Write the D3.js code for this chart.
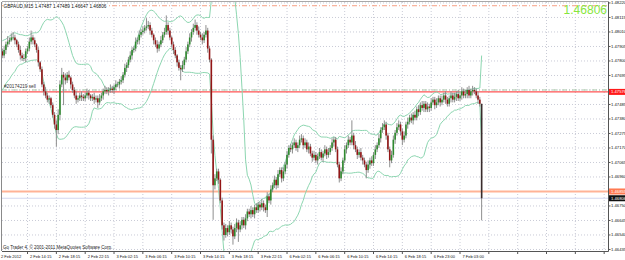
<!DOCTYPE html>
<html>
<head>
<meta charset="utf-8">
<script src="https://cdn.jsdelivr.net/npm/d3@7"></script>
<style>
  body { margin: 0; background: #fff; }
  svg { display: block; }
  text { font-family: "Liberation Sans", Arial, sans-serif; }
</style>
</head>
<body>
<svg id="chart" width="625" height="260"></svg>
<script>
// GBPAUD M15 candles, 2 Feb 2012 .. 7 Feb 2012
const header = "GBPAUD,M15  1.47487 1.47489 1.46647 1.46806";
const copyright = "Go Trader 4, \u00a9 2001-2011 MetaQuotes Software Corp.";
const orderLabel = "#20174219 sell";

// closes of the 19 bars before the first visible one (needed for the bands)
const priorCloses = [1.4763,1.4760,1.4765,1.4768,1.4766,1.4770,1.4774,1.4772,1.4776,1.4779,
  1.4781,1.4778,1.4782,1.4784,1.4787,1.4784,1.4788,1.4789,1.4787];
const firstOpen = 1.4787;

// visible closes; the open of each bar is the close before it
const closes = [
  1.4784,1.4788,1.4792,1.4794,1.4795,1.4797,1.4797,1.4795,1.4792,1.4788,1.4784,1.4782,1.4782,1.4787,1.4789,1.4794,1.4797,1.4795,1.4792,1.4788,
  1.4779,1.4774,1.4763,1.4758,1.4755,1.4752,1.4753,1.4748,1.4741,1.4734,1.4730,1.4741,1.4763,1.4770,1.4768,1.4766,1.4770,1.4768,1.4763,1.4759,
  1.4755,1.4752,1.4753,1.4755,1.4754,1.4753,1.4755,1.4757,1.4755,1.4753,1.4754,1.4752,1.4753,1.4750,1.4753,1.4755,1.4758,1.4759,1.4758,1.4759,
  1.4760,1.4759,1.4761,1.4763,1.4763,1.4765,1.4766,1.4770,1.4775,1.4777,1.4781,1.4784,1.4788,1.4789,1.4794,1.4795,1.4799,1.4801,1.4802,1.4804,
  1.4805,1.4806,1.4802,1.4799,1.4795,1.4792,1.4789,1.4792,1.4795,1.4799,1.4801,1.4806,1.4802,1.4797,1.4792,1.4788,1.4784,1.4779,1.4775,1.4774,
  1.4777,1.4781,1.4787,1.4792,1.4797,1.4801,1.4804,1.4806,1.4802,1.4799,1.4797,1.4795,1.4799,1.4802,1.4789,1.4781,1.4723,1.4690,1.4695,1.4700,
  1.4694,1.4679,1.4661,1.4654,1.4659,1.4656,1.4661,1.4658,1.4653,1.4659,1.4663,1.4658,1.4661,1.4665,1.4661,1.4666,1.4671,1.4669,1.4672,1.4669,
  1.4674,1.4672,1.4676,1.4674,1.4677,1.4674,1.4672,1.4682,1.4679,1.4687,1.4690,1.4694,1.4690,1.4698,1.4701,1.4695,1.4700,1.4705,1.4712,1.4717,
  1.4716,1.4719,1.4721,1.4717,1.4719,1.4723,1.4724,1.4719,1.4721,1.4716,1.4718,1.4713,1.4710,1.4712,1.4708,1.4711,1.4714,1.4710,1.4713,1.4716,
  1.4712,1.4714,1.4717,1.4721,1.4723,1.4716,1.4705,1.4695,1.4700,1.4708,1.4716,1.4719,1.4723,1.4721,1.4726,1.4719,1.4716,1.4712,1.4714,1.4710,
  1.4708,1.4705,1.4701,1.4705,1.4708,1.4706,1.4712,1.4716,1.4719,1.4724,1.4730,1.4732,1.4734,1.4726,1.4716,1.4708,1.4712,1.4723,1.4728,1.4732,
  1.4734,1.4729,1.4723,1.4726,1.4734,1.4736,1.4739,1.4737,1.4741,1.4739,1.4745,1.4743,1.4748,1.4746,1.4749,1.4745,1.4747,1.4746,1.4750,1.4752,
  1.4748,1.4750,1.4753,1.4750,1.4752,1.4755,1.4752,1.4749,1.4753,1.4755,1.4752,1.4754,1.4756,1.4753,1.4755,1.4758,1.4755,1.4756,1.4759,1.4755,
  1.4758,1.4759,1.4758,1.4755,1.4752,1.4749,1.46806
];

// wick lengths in pips above the body top / below the body bottom
const upWick = [
  2,3,2,4,2,3,4,2,1,2,3,2,3,2,2,3,5,2,2,1,
  2,1,2,2,3,2,2,1,2,2,3,4,3,5,2,3,2,3,1,2,
  2,3,2,2,3,2,2,3,2,1,2,3,2,2,3,2,2,3,2,2,
  3,2,2,3,2,2,3,2,3,2,2,3,2,2,3,2,3,2,3,2,
  6,3,2,2,1,2,3,2,3,2,3,7,2,2,1,2,2,1,2,2,
  3,2,3,2,3,2,3,4,2,3,2,3,2,4,2,2,1,3,3,2,
  2,1,2,2,3,2,3,2,2,3,3,2,3,2,2,3,2,2,3,2,
  2,3,2,2,3,2,2,3,2,3,2,3,2,3,2,2,3,2,3,2,
  3,2,3,2,2,3,3,2,3,2,3,2,2,3,2,2,3,2,2,3,
  2,3,2,3,2,2,2,2,3,2,3,2,3,2,11,2,3,2,2,3,
  2,2,2,3,2,3,2,3,2,3,2,3,3,2,2,2,3,3,2,3,
  3,2,2,3,2,3,2,3,2,3,2,3,2,3,2,2,3,2,3,2,
  2,3,2,2,3,2,3,2,2,3,2,3,2,3,2,3,2,3,2,3,
  2,3,2,2,3,2,0
];
const downWick = [
  2,2,3,2,2,1,2,3,2,2,3,2,2,3,2,2,2,3,2,2,
  3,2,2,3,2,2,3,2,2,3,12,3,4,2,20,3,2,2,3,2,
  2,3,2,2,3,2,2,2,3,2,2,3,2,4,2,2,3,2,2,3,
  2,2,3,2,2,3,2,2,2,3,2,2,3,2,2,2,3,2,2,2,
  2,2,3,2,3,2,3,2,2,2,2,2,3,2,2,3,2,3,2,8,
  2,3,2,2,2,3,2,2,3,2,2,3,2,2,3,2,10,25,3,2,
  3,2,3,4,2,3,2,3,6,2,3,9,2,3,2,3,2,2,3,2,
  3,2,2,3,2,3,2,5,2,3,2,2,3,2,2,3,2,2,3,2,
  2,3,2,2,3,2,2,3,2,2,3,2,3,2,2,3,2,2,3,2,
  3,2,2,2,3,2,2,3,2,2,2,3,2,2,2,3,2,3,2,2,
  3,2,6,2,3,2,2,3,2,2,3,2,2,3,2,5,2,2,3,2,
  2,3,4,2,2,3,2,2,3,2,2,3,2,2,3,2,2,3,2,2,
  3,2,2,3,2,2,3,2,2,3,2,2,3,2,2,3,2,2,3,2,
  2,3,2,2,3,2,16
];

const priceTicks = [1.48220,1.48115,1.48010,1.47905,1.47800,1.47695,1.47590,1.47485,1.47380,
  1.47275,1.47170,1.47065,1.46960,1.46855,1.46750,1.46645,1.46540,1.46435];
const timeLabels = ["2 Feb 2012","2 Feb 14:15","2 Feb 18:15","2 Feb 22:15","3 Feb 02:15","3 Feb 06:15",
  "3 Feb 10:15","3 Feb 14:15","3 Feb 18:15","3 Feb 22:15","6 Feb 02:15","6 Feb 06:15","6 Feb 10:15",
  "6 Feb 14:15","6 Feb 18:15","6 Feb 23:00","7 Feb 03:00"];
const timeLabelBars = [0,14,30,46,62,78,94,110,126,142,158,174,190,206,222,238,254];
const emptyGridBars = [270,286,302,318,334]; // grid keeps going in the chart shift area

const bid = 1.46806;
const tpLevel = 1.48200;
const orderLevel = 1.47590;
const redLevel = 1.47576;
const orangeLevel = 1.46855;
const bbPeriod = 20, bbDev = 2;

const margin = {top: 2, left: 2, right: 17, bottom: 9},
  width = 625 - margin.left - margin.right,
  height = 260 - margin.top - margin.bottom;

const svg = d3.select("#chart");
const g = svg.append("g").attr("transform", "translate(" + margin.left + "," + margin.top + ")");

const x = d3.scaleLinear().domain([0, closes.length - 1]).range([0.3, 0.3 + (closes.length - 1) * 1.802]);
const y = d3.scaleLinear().domain([1.46424, 1.48227]).range([height, 0]);

g.append("clipPath").attr("id", "plot")
  .append("rect").attr("width", width).attr("height", height);

// dotted grid
g.selectAll(".hgrid").data(priceTicks).join("line")
  .attr("x1", 0).attr("x2", width)
  .attr("y1", d => y(d)).attr("y2", d => y(d))
  .attr("stroke", "#c9cbd6").attr("stroke-dasharray", "1,2");
g.selectAll(".vgrid").data(timeLabelBars.slice(1).concat(emptyGridBars)).join("line")
  .attr("x1", d => x(d)).attr("x2", d => x(d))
  .attr("y1", 0).attr("y2", height)
  .attr("stroke", "#c9cbd6").attr("stroke-dasharray", "1,2");

const plot = g.append("g").attr("clip-path", "url(#plot)");

// level lines
function hline(level, color, w, dash) {
  plot.append("line")
    .attr("x1", 0).attr("x2", width)
    .attr("y1", y(level)).attr("y2", y(level))
    .attr("stroke", color).attr("stroke-width", w)
    .attr("stroke-dasharray", dash);
}
hline(tpLevel, "#f7a084", 1, "5,2,1,2");
hline(orderLevel, "#a9c9a9", 1, "5,2,1,2");
hline(redLevel, "#ff2a2a", 1, null);
hline(orangeLevel, "#ffb396", 2, null);
hline(bid, "#d3d7ef", 1, null);

// Bollinger bands (20, 2) on the closes
const allCloses = priorCloses.concat(closes);
const bands = closes.map((c, i) => {
  const w = allCloses.slice(i, i + bbPeriod);
  const m = d3.mean(w);
  const sd = Math.sqrt(d3.mean(w, v => (v - m) * (v - m)));
  return {i: i, up: m + bbDev * sd, lo: m - bbDev * sd};
});
["up", "lo"].forEach(k => {
  plot.append("path").datum(bands)
    .attr("fill", "none").attr("stroke", "#8cd6b0").attr("stroke-width", 1)
    .attr("d", d3.line().x(d => x(d.i)).y(d => y(d[k])));
});

// candles
const bars = closes.map((c, i) => {
  const o = i === 0 ? firstOpen : closes[i - 1];
  return {
    i: i, o: o, c: c,
    h: Math.max(o, c) + upWick[i] / 10000,
    l: Math.min(o, c) - downWick[i] / 10000
  };
});
plot.selectAll(".wick").data(bars).join("line")
  .attr("x1", d => x(d.i)).attr("x2", d => x(d.i))
  .attr("y1", d => y(d.h)).attr("y2", d => y(d.l))
  .attr("stroke", "#8e8e8e").attr("stroke-width", 1);
plot.selectAll(".body").data(bars).join("rect")
  .attr("x", d => x(d.i) - 0.8)
  .attr("width", 1.6)
  .attr("y", d => y(Math.max(d.o, d.c)))
  .attr("height", d => Math.max(0.8, Math.abs(y(d.o) - y(d.c))))
  .attr("fill", d => d.i === bars.length - 1 ? "#3a2c2c" : (d.c >= d.o ? "#2f8a2f" : "#931616"));

// frame
g.append("line").attr("x1", 0).attr("x2", width).attr("y1", -0.5).attr("y2", -0.5).attr("stroke", "#a8a8a8");
g.append("line").attr("x1", -0.5).attr("x2", -0.5).attr("y1", 0).attr("y2", height).attr("stroke", "#8a8a8a");
g.append("line").attr("x1", 0).attr("x2", width + 0.5).attr("y1", height + 0.5).attr("y2", height + 0.5).attr("stroke", "#555");
g.append("line").attr("x1", width + 0.5).attr("x2", width + 0.5).attr("y1", -0.5).attr("y2", height + 0.5).attr("stroke", "#555");

// price axis; labels under a price box are hidden by it
const boxLevels = [redLevel, orangeLevel, bid];
g.selectAll(".ptick").data(priceTicks).join("line")
  .attr("x1", width).attr("x2", width + 2.5)
  .attr("y1", d => y(d)).attr("y2", d => y(d)).attr("stroke", "#555");
g.selectAll(".plabel")
  .data(priceTicks.filter(t => boxLevels.every(b => Math.abs(y(t) - y(b)) > 5)))
  .join("text")
  .attr("x", width + 3).attr("y", d => y(d) + 1.5)
  .attr("font-size", 4.2).attr("fill", "#111")
  .text(d => d.toFixed(5));

function priceBox(level, fill, txtColor) {
  g.append("rect").attr("x", width + 1).attr("y", y(level) - 3)
    .attr("width", 17).attr("height", 6).attr("fill", fill);
  g.append("text").attr("x", width + 3).attr("y", y(level) + 1.5)
    .attr("font-size", 4.2).attr("fill", txtColor).text(level.toFixed(5));
}
priceBox(redLevel, "#ff1a1a", "#fff");
priceBox(orangeLevel, "#ff7a52", "#fff");
priceBox(bid, "#111", "#fff");

// time axis
g.selectAll(".ttick").data(timeLabelBars.slice(1).concat(emptyGridBars)).join("line")
  .attr("x1", d => x(d)).attr("x2", d => x(d))
  .attr("y1", height).attr("y2", height + 3).attr("stroke", "#555");
g.selectAll(".tlabel").data(timeLabels).join("text")
  .attr("x", (d, i) => i === 0 ? -1 : x(timeLabelBars[i]) + 2.5)
  .attr("y", height + 6.5)
  .attr("font-size", 4).attr("fill", "#111")
  .text(d => d);

// texts on the chart
const head = g.append("g");
const headText = head.append("text").attr("x", 1.5).attr("y", 6)
  .attr("font-size", 4.7).attr("fill", "#111").text(header);
const hb = headText.node().getBBox();
head.insert("rect", "text").attr("x", hb.x - 0.5).attr("y", hb.y).attr("width", hb.width + 1.5)
  .attr("height", hb.height).attr("fill", "#fff");

g.append("text").attr("x", 2).attr("y", y(redLevel) - 3.5)
  .attr("font-size", 4.7).attr("fill", "#333").text(orderLabel);

g.append("text").attr("x", 1).attr("y", height - 2)
  .attr("font-size", 4.5).attr("fill", "#222").text(copyright);

svg.append("text").attr("x", 607).attr("y", 13.5).attr("text-anchor", "end")
  .attr("font-size", 12).attr("fill", "#86e63c").text(bid.toFixed(5));
</script>
</body>
</html>
